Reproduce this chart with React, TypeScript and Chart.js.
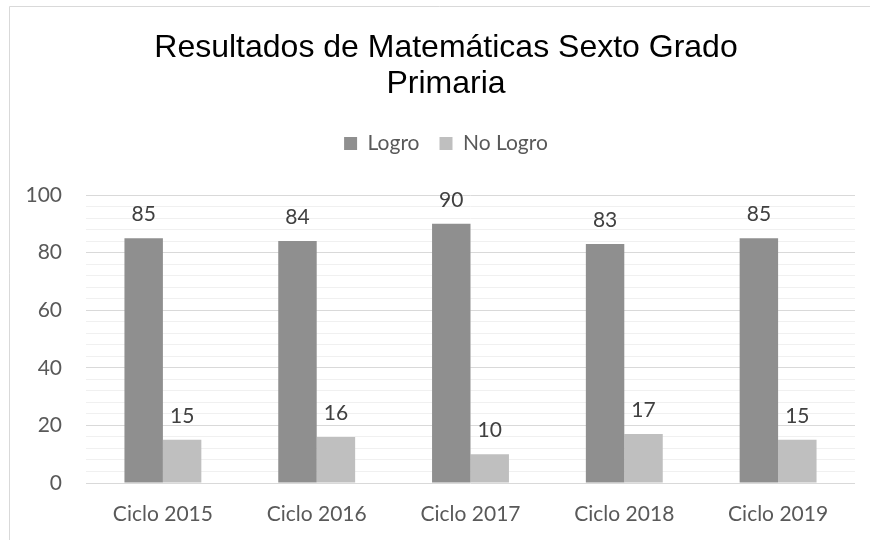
import React, { useEffect, useRef } from 'react';
import { Chart, registerables, layouts } from 'chart.js';

Chart.register(...registerables);

const categories = ['Ciclo 2015', 'Ciclo 2016', 'Ciclo 2017', 'Ciclo 2018', 'Ciclo 2019'];
const logroValues = [85, 84, 90, 83, 85];
const noLogroValues = [15, 16, 10, 17, 15];
const seriesNames = ['Logro', 'No Logro'];
const titleLines = ['Resultados de Matemáticas Sexto Grado', 'Primaria'];
const yTickLabels = [0, 20, 40, 60, 80, 100];

const FONT = 'Lato, "Open Sans", sans-serif';
const FS = 21;

function makeSpacer(position: string, weight: number, size: number) {
  const horizontal = position === 'top' || position === 'bottom';
  return {
    position,
    weight,
    fullSize: horizontal,
    options: { stackWeight: 1 },
    top: 0, left: 0, right: 0, bottom: 0, width: 0, height: 0,
    isHorizontal() { return horizontal; },
    update(maxWidth: number, maxHeight: number) {
      if (horizontal) { this.width = maxWidth; this.height = size; }
      else { this.width = size; this.height = maxHeight; }
    },
    draw() {},
  };
}

const spacers = {
  id: 'spacers',
  beforeInit(chart: any) {
    layouts.addBox(chart, makeSpacer('top', 500, 31) as any);
    layouts.addBox(chart, makeSpacer('right', 500, 15) as any);
  },
};

const frame = {
  id: 'frame',
  beforeDraw(chart: any) {
    const ctx = chart.ctx;
    ctx.save();
    ctx.fillStyle = '#ffffff';
    ctx.fillRect(0, 0, chart.width, chart.height);
    ctx.strokeStyle = '#d9d9d9';
    ctx.lineWidth = 1;
    ctx.beginPath();
    ctx.moveTo(9.5, chart.height);
    ctx.lineTo(9.5, 6.5);
    ctx.lineTo(chart.width, 6.5);
    ctx.stroke();
    ctx.restore();
  },
};

const dataLabels = {
  id: 'dataLabels',
  afterDatasetsDraw(chart: any) {
    const ctx = chart.ctx;
    ctx.save();
    ctx.font = FS + 'px ' + FONT;
    ctx.fillStyle = '#404040';
    ctx.textAlign = 'center';
    ctx.textBaseline = 'middle';
    chart.data.datasets.forEach((ds: any, i: number) => {
      const meta = chart.getDatasetMeta(i);
      meta.data.forEach((el: any, j: number) => {
        ctx.fillText(String(ds.data[j]), el.x, el.y - 24);
      });
    });
    ctx.restore();
  },
};

export default function App() {
  const ref = useRef<HTMLCanvasElement | null>(null);

  useEffect(() => {
    if (!ref.current) return;
    const chart = new Chart(ref.current, {
      type: 'bar',
      data: {
        labels: categories,
        datasets: [
          {
            label: seriesNames[0],
            data: logroValues,
            backgroundColor: '#8f8f8f',
            borderWidth: 0,
            categoryPercentage: 0.5,
            barPercentage: 1.0,
          },
          {
            label: seriesNames[1],
            data: noLogroValues,
            backgroundColor: '#bfbfbf',
            borderWidth: 0,
            categoryPercentage: 0.5,
            barPercentage: 1.0,
          },
        ],
      },
      options: {
        responsive: false,
        animation: false,
        layout: { padding: { top: 10, left: 22, right: 0, bottom: 14 } },
        plugins: {
          title: {
            display: true,
            text: titleLines,
            color: '#000000',
            font: { family: '"Liberation Sans", Arial, sans-serif', size: 32, weight: 'normal', lineHeight: 1.125 },
            padding: { top: 20, bottom: 11 },
          },
          legend: {
            display: true,
            labels: {
              boxWidth: 13,
              boxHeight: 13,
              padding: 20,
              color: '#595959',
              font: { family: FONT, size: FS },
            },
          },
          tooltip: { enabled: false },
        },
        scales: {
          x: {
            afterFit(s: any) { s.height = 43; },
            grid: { display: false, drawTicks: false },
            border: { display: false },
            ticks: { padding: 19, maxRotation: 0, color: '#595959', font: { family: FONT, size: FS } },
          },
          y: {
            min: 0,
            max: 100,
            afterFit(s: any) { s.width = 64; },
            border: { display: false },
            grid: {
              drawTicks: false,
              color: (c: any) => (c.tick && yTickLabels.includes(c.tick.value) ? '#d9d9d9' : '#f0f0f0'),
              lineWidth: 1,
            },
            ticks: {
              stepSize: 4,
              autoSkip: false,
              padding: 24,
              color: '#595959',
              font: { family: FONT, size: FS },
              callback: (v: any) => (yTickLabels.includes(Number(v)) ? String(v) : ''),
            },
          },
        },
      } as any,
      plugins: [spacers, frame, dataLabels],
    });
    return () => chart.destroy();
  }, []);

  return (
    <div style={{ position: 'absolute', left: 0, top: 0, width: 870, height: 540 }}>
      <canvas ref={ref} width={870} height={540} style={{ display: 'block' }} />
    </div>
  );
}
